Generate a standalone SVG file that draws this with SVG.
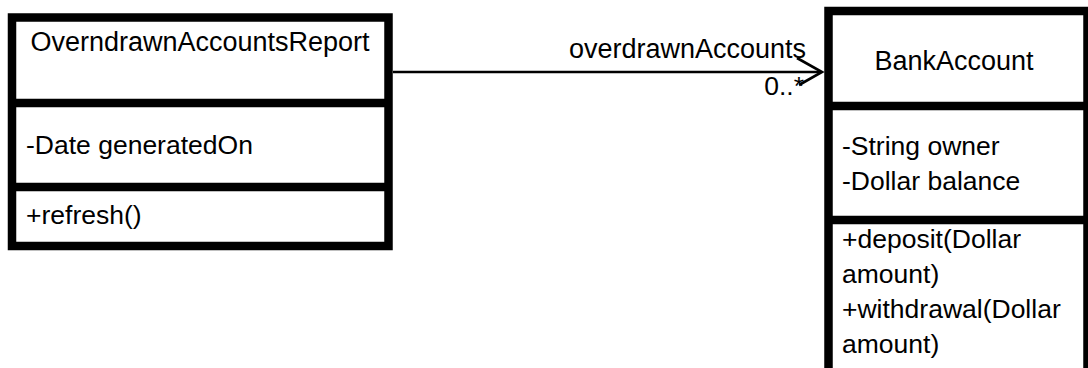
<svg xmlns="http://www.w3.org/2000/svg" width="1088" height="368" viewBox="0 0 1088 368">
<style>
.box{fill:#fff;stroke:#000;stroke-width:8.5}
.div{stroke:#000;stroke-width:8.5}
.t{font-family:"Liberation Sans",Arial,sans-serif;font-size:26.5px;fill:#000}
.h{font-size:27px}
.c{text-anchor:middle}
.e{text-anchor:end}
.conn{stroke:#000;stroke-width:2.6;fill:none}
</style>
<rect width="1088" height="368" fill="#fff"/>
<g id="connectors">
<line class="conn" x1="393" y1="72" x2="821" y2="72"/>
<polyline class="conn" points="797,58 822,72 799,85"/>
<text class="t h e" x="806" y="58">overdrawnAccounts</text>
<text class="t e" x="804" y="95">0..*</text>
</g>
<g id="OverndrawnAccountsReport">
<rect class="box" x="12" y="17.5" width="376.5" height="228.5"/>
<line class="div" x1="12" y1="103" x2="388.5" y2="103"/>
<line class="div" x1="12" y1="187" x2="388.5" y2="187"/>
<text class="t h c" x="200" y="51">OverndrawnAccountsReport</text>
<text class="t" x="26" y="154">-Date generatedOn</text>
<text class="t" x="26" y="224">+refresh()</text>
</g>
<g id="BankAccount">
<rect class="box" x="828.5" y="11" width="259" height="370"/>
<line class="div" x1="828.5" y1="106" x2="1088" y2="106"/>
<line class="div" x1="828.5" y1="220" x2="1088" y2="220"/>
<text class="t h c" x="954" y="70">BankAccount</text>
<text class="t" x="842" y="155">-String owner</text>
<text class="t" x="842" y="190">-Dollar balance</text>
<text class="t" x="842" y="248">+deposit(Dollar</text>
<text class="t" x="842" y="283">amount)</text>
<text class="t" x="842" y="318">+withdrawal(Dollar</text>
<text class="t" x="842" y="353">amount)</text>
</g>
</svg>
